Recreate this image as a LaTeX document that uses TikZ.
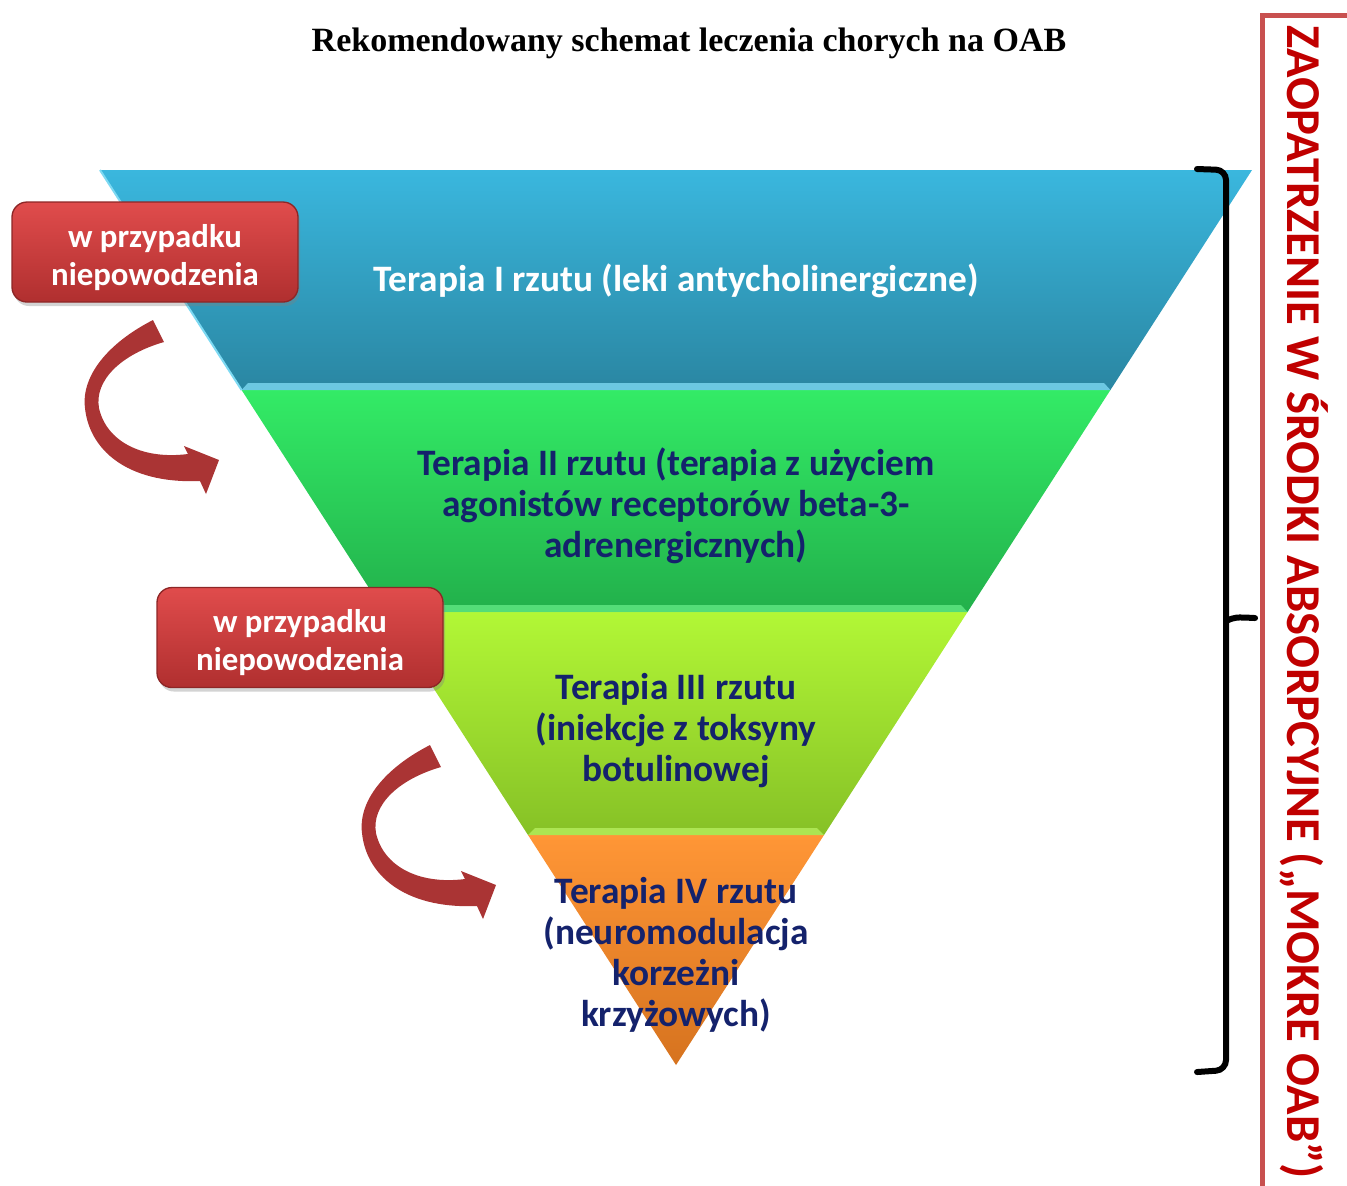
\documentclass[tikz,border=0pt]{standalone}
\usepackage{fontspec}
\setmainfont{Liberation Serif}
\newfontfamily\carlito{Carlito}
\usetikzlibrary{shadows}
\definecolor{blueT}{HTML}{3AB7DE}
\definecolor{blueB}{HTML}{2A86A2}
\definecolor{blueL}{HTML}{7DD9F2}
\definecolor{greenT}{HTML}{33EB66}
\definecolor{greenB}{HTML}{22B04B}
\definecolor{greenL}{HTML}{6AF08C}
\definecolor{ygT}{HTML}{B2F736}
\definecolor{ygB}{HTML}{86C126}
\definecolor{ygL}{HTML}{B6EE5E}
\definecolor{orT}{HTML}{FF9636}
\definecolor{orB}{HTML}{D6731F}
\definecolor{navy}{HTML}{14226C}
\definecolor{boxT}{HTML}{E04C4C}
\definecolor{boxB}{HTML}{B02F2F}
\definecolor{arrowred}{HTML}{AA3434}
\definecolor{bordred}{HTML}{C8504F}
\definecolor{textred}{HTML}{C00000}
\tikzset{
  bandtext/.style={font=\carlito\bfseries\fontsize{11.2}{12.3}\selectfont, align=center, inner sep=0pt},
  redbox/.style={rounded corners=4.5pt, minimum width=85.8pt, minimum height=30pt, inner sep=0pt,
    top color=boxT, bottom color=boxB, draw=boxB!80!black, line width=0.4pt,
    drop shadow={opacity=0.35, shadow xshift=0.6pt, shadow yshift=-1.2pt}},
  boxlabel/.style={text=white, align=center, inner sep=0pt, yshift=-1.6pt,
    font=\carlito\bfseries\fontsize{9.85}{11.4}\selectfont},
  bracestyle/.style={line width=1.8pt, black, line cap=round},
  curvarrow/.style={fill=arrowred},
}
\begin{document}
\begin{tikzpicture}[x=0.3pt,y=-0.3pt]
\useasboundingbox (0,0) rectangle (1347,1185);
% title
\node[font=\bfseries\fontsize{10.2}{12}\selectfont, inner sep=0pt] (title) at (689,43) {Rekomendowany schemat leczenia chorych na OAB};
% triangle band coordinates
\coordinate (A1) at (100,170);   \coordinate (A2) at (1252,170);
\coordinate (B1) at (241.6,390); \coordinate (B2) at (1110.4,390);
\coordinate (C1) at (384.5,612); \coordinate (C2) at (967.5,612);
\coordinate (D1) at (528,835);   \coordinate (D2) at (824,835);
\coordinate (E) at (676,1065);
% bands
\path[top color=blueT, bottom color=blueB] (A1) -- (A2) -- (B2) -- (B1) -- cycle;
\path[top color=greenT, bottom color=greenB] (B1) -- (B2) -- (C2) -- (C1) -- cycle;
\path[top color=ygT, bottom color=ygB] (C1) -- (C2) -- (D2) -- (D1) -- cycle;
\path[top color=orT, bottom color=orB] (D1) -- (D2) -- (E) -- cycle;
% bevel strips
\fill[blueL, opacity=0.8] (248,383) -- (1104,383) -- (1110.4,390) -- (241.6,390) -- cycle;
\fill[greenL, opacity=0.7] (391,605) -- (961,605) -- (967.5,612) -- (384.5,612) -- cycle;
\fill[ygL, opacity=0.8] (535,828) -- (817,828) -- (824,835) -- (528,835) -- cycle;
\draw[blueL, line width=0.6pt] (A1) -- (B1);
% band texts
\node[bandtext, text=white] (t1) at (676,281) {Terapia I rzutu (leki antycholinergiczne)};
\node[bandtext, text=navy] (t2) at (676,506) {Terapia II rzutu (terapia z użyciem\\agonistów receptorów beta-3-\\adrenergicznych)};
\node[bandtext, text=navy] (t3) at (676,731) {Terapia III rzutu\\(iniekcje z toksyny\\botulinowej};
\node[bandtext, text=navy] (t4) at (676,955) {Terapia IV rzutu\\(neuromodulacja\\korzeżni\\krzyżowych)};
% red boxes
\node[redbox, label={[boxlabel]center:{w przypadku\\niepowodzenia}}] (b1) at (155,252) {};
\node[redbox, label={[boxlabel]center:{w przypadku\\niepowodzenia}}] (b2) at (300,637.5) {};
% curved arrows
\foreach \dx/\dy/\nm in {0/0/arrA, 277/425/arrB}{
\begin{scope}[shift={(\dx,\dy)}]
\fill[curvarrow] (153,320) .. controls (108,343) and (81,376) .. (85,408)
  .. controls (89,448) and (125,484) .. (200,481)
  -- (206,494) -- (219,460) -- (184,446) -- (188,454)
  .. controls (140,460) and (106,440) .. (99,408)
  .. controls (94,380) and (122,354) .. (164,342) -- cycle;
\end{scope}
}
% brace
\coordinate (brT) at (1197,169);
\coordinate (brM) at (1255,618);
\coordinate (brB) at (1197,1072);
\draw[bracestyle, rounded corners=3pt] (brT) -- (1226,170) -- (1226,1070) -- (brB);
\draw[bracestyle] (1226,621) .. controls (1235,617) .. (brM);
% right frame
\draw[bordred, line width=1.5pt] (1262,1190) -- (1262,15) -- (1350,15);
\node[rotate=-90, text=textred, font=\carlito\bfseries\fontsize{14.6}{16}\selectfont, inner sep=0pt] (vt) at (1304,602) {ZAOPATRZENIE W ŚRODKI ABSORPCYJNE („MOKRE OAB”)};
\end{tikzpicture}
\end{document}
